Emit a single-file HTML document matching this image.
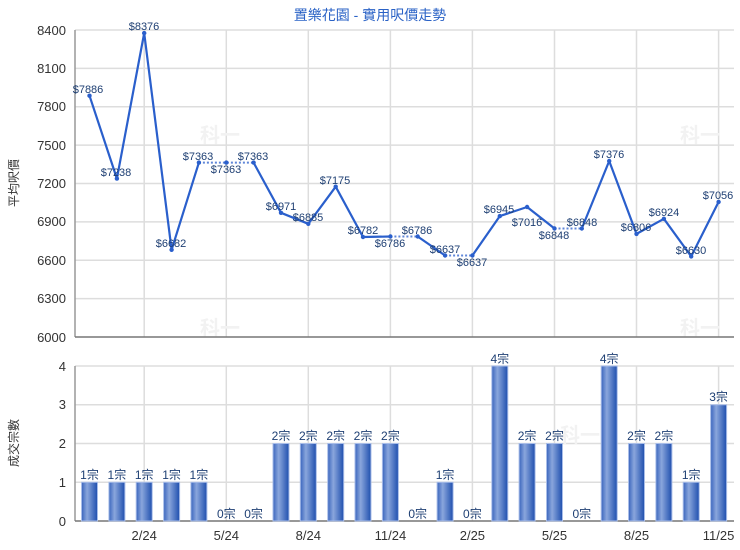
<!DOCTYPE html>
<html><head><meta charset="utf-8"><style>
body{margin:0;background:#fff}
svg{display:block}
text{font-family:"Liberation Sans","Noto Sans CJK TC",sans-serif}
</style></head><body>
<svg width="740" height="550" viewBox="0 0 740 550" xmlns="http://www.w3.org/2000/svg">
<defs>
<linearGradient id="bg" x1="0" x2="1" y1="0" y2="0">
<stop offset="0" stop-color="#3a65bd"/><stop offset="0.35" stop-color="#8aa6dc"/><stop offset="1" stop-color="#1f4fae"/>
</linearGradient>
</defs>
<text x="370" y="20" text-anchor="middle" font-size="14" fill="#2a62c6">置樂花園 - 實用呎價走勢</text>
<g stroke="#dddddd" stroke-width="1.5">
<line x1="75" x2="734" y1="30" y2="30"/><line x1="75" x2="734" y1="68.4" y2="68.4"/><line x1="75" x2="734" y1="106.7" y2="106.7"/><line x1="75" x2="734" y1="145.1" y2="145.1"/><line x1="75" x2="734" y1="183.5" y2="183.5"/><line x1="75" x2="734" y1="221.9" y2="221.9"/><line x1="75" x2="734" y1="260.2" y2="260.2"/><line x1="75" x2="734" y1="298.6" y2="298.6"/>
<line x1="144.2" x2="144.2" y1="30" y2="337"/><line x1="226.3" x2="226.3" y1="30" y2="337"/><line x1="308.3" x2="308.3" y1="30" y2="337"/><line x1="390.4" x2="390.4" y1="30" y2="337"/><line x1="472.4" x2="472.4" y1="30" y2="337"/><line x1="554.5" x2="554.5" y1="30" y2="337"/><line x1="636.5" x2="636.5" y1="30" y2="337"/><line x1="718.6" x2="718.6" y1="30" y2="337"/>
<line x1="75" x2="734" y1="366" y2="366"/><line x1="75" x2="734" y1="404.75" y2="404.75"/><line x1="75" x2="734" y1="443.5" y2="443.5"/><line x1="75" x2="734" y1="482.25" y2="482.25"/>
<line x1="144.2" x2="144.2" y1="366" y2="521"/><line x1="226.3" x2="226.3" y1="366" y2="521"/><line x1="308.3" x2="308.3" y1="366" y2="521"/><line x1="390.4" x2="390.4" y1="366" y2="521"/><line x1="472.4" x2="472.4" y1="366" y2="521"/><line x1="554.5" x2="554.5" y1="366" y2="521"/><line x1="636.5" x2="636.5" y1="366" y2="521"/><line x1="718.6" x2="718.6" y1="366" y2="521"/>
</g>
<g fill="#f2f2f2" font-size="20" font-weight="bold">
<text x="200" y="142">科一</text><text x="680" y="142">科一</text><text x="200" y="335">科一</text><text x="680" y="335">科一</text><text x="560" y="442">科一</text>
</g>
<g stroke="#999" stroke-width="1.5"><line x1="75" x2="75" y1="30" y2="337"/><line x1="75" x2="75" y1="366" y2="521"/></g>
<g stroke="#777" stroke-width="1.5"><line x1="75" x2="734" y1="337" y2="337"/><line x1="75" x2="734" y1="521" y2="521"/></g>
<g font-size="13" fill="#333" text-anchor="end">
<text x="66" y="35">8400</text><text x="66" y="73">8100</text><text x="66" y="111">7800</text><text x="66" y="150">7500</text><text x="66" y="188">7200</text><text x="66" y="226">6900</text><text x="66" y="265">6600</text><text x="66" y="303">6300</text><text x="66" y="342">6000</text>
<text x="66" y="371">4</text><text x="66" y="409">3</text><text x="66" y="448">2</text><text x="66" y="487">1</text><text x="66" y="526">0</text>
</g>
<g font-size="12" fill="#333" text-anchor="middle">
<text transform="translate(18,183) rotate(-90)">平均呎價</text>
<text transform="translate(18,443) rotate(-90)">成交宗數</text>
</g>
<g font-size="13" fill="#333" text-anchor="middle">
<text x="144.2" y="540">2/24</text><text x="226.3" y="540">5/24</text><text x="308.3" y="540">8/24</text><text x="390.4" y="540">11/24</text><text x="472.4" y="540">2/25</text><text x="554.5" y="540">5/25</text><text x="636.5" y="540">8/25</text><text x="718.6" y="540">11/25</text>
</g>
<g fill="none" stroke="#2a5fcc" stroke-width="2.2" stroke-linejoin="round">
<polyline points="89.5,95.7 116.9,178.6 144.2,33.1 171.6,249.8 198.9,162.6"/>
<polyline points="253.6,162.6 281,212.8 308.3,223.8 335.7,186.7 363,237 390.4,236.5"/>
<polyline points="417.7,236.5 445.1,255.5"/>
<polyline points="472.4,255.5 499.8,216.1 527.1,207 554.5,228.5"/>
<polyline points="581.8,228.5 609.2,161 636.5,233.9 663.9,218.8 691.2,256.4 718.6,201.9"/>
</g>
<g fill="none" stroke="#5f86d8" stroke-width="2" stroke-dasharray="2,2">
<polyline points="198.9,162.6 226.3,162.6 253.6,162.6"/>
<line x1="390.4" y1="236.5" x2="417.7" y2="236.5"/>
<line x1="445.1" y1="255.5" x2="472.4" y2="255.5"/>
<line x1="554.5" y1="228.5" x2="581.8" y2="228.5"/>
</g>
<g fill="#2a5fcc">
<circle cx="89.5" cy="95.7" r="2.2"/><circle cx="116.9" cy="178.6" r="2.2"/><circle cx="144.2" cy="33.1" r="2.2"/><circle cx="171.6" cy="249.8" r="2.2"/><circle cx="198.9" cy="162.6" r="2.2"/><circle cx="226.3" cy="162.6" r="2.2"/><circle cx="253.6" cy="162.6" r="2.2"/><circle cx="281" cy="212.8" r="2.2"/><circle cx="308.3" cy="223.8" r="2.2"/><circle cx="335.7" cy="186.7" r="2.2"/><circle cx="363" cy="237" r="2.2"/><circle cx="390.4" cy="236.5" r="2.2"/><circle cx="417.7" cy="236.5" r="2.2"/><circle cx="445.1" cy="255.5" r="2.2"/><circle cx="472.4" cy="255.5" r="2.2"/><circle cx="499.8" cy="216.1" r="2.2"/><circle cx="527.1" cy="207" r="2.2"/><circle cx="554.5" cy="228.5" r="2.2"/><circle cx="581.8" cy="228.5" r="2.2"/><circle cx="609.2" cy="161" r="2.2"/><circle cx="636.5" cy="233.9" r="2.2"/><circle cx="663.9" cy="218.8" r="2.2"/><circle cx="691.2" cy="256.4" r="2.2"/><circle cx="718.6" cy="201.9" r="2.2"/>
</g>
<g font-size="11" fill="#1e3f73" text-anchor="middle">
<text x="88" y="93">$7886</text><text x="116" y="176">$7238</text><text x="144" y="30">$8376</text><text x="171" y="247">$6682</text><text x="198" y="160">$7363</text><text x="226" y="173">$7363</text><text x="253" y="160">$7363</text><text x="281" y="210">$6971</text><text x="308" y="221">$6885</text><text x="335" y="184">$7175</text><text x="363" y="234">$6782</text><text x="390" y="247">$6786</text><text x="417" y="234">$6786</text><text x="445" y="253">$6637</text><text x="472" y="266">$6637</text><text x="499" y="213">$6945</text><text x="527" y="226">$7016</text><text x="554" y="239">$6848</text><text x="582" y="226">$6848</text><text x="609" y="158">$7376</text><text x="636" y="231">$6806</text><text x="664" y="216">$6924</text><text x="691" y="254">$6630</text><text x="718" y="199">$7056</text>
</g>
<g fill="url(#bg)" stroke="#a9bde8" stroke-width="1">
<rect x="81.5" y="482.25" width="16" height="38.75"/><rect x="108.9" y="482.25" width="16" height="38.75"/><rect x="136.2" y="482.25" width="16" height="38.75"/><rect x="163.6" y="482.25" width="16" height="38.75"/><rect x="190.9" y="482.25" width="16" height="38.75"/>
<rect x="273" y="443.5" width="16" height="77.5"/><rect x="300.3" y="443.5" width="16" height="77.5"/><rect x="327.7" y="443.5" width="16" height="77.5"/><rect x="355" y="443.5" width="16" height="77.5"/><rect x="382.4" y="443.5" width="16" height="77.5"/>
<rect x="437.1" y="482.25" width="16" height="38.75"/>
<rect x="491.8" y="366" width="16" height="155"/><rect x="519.1" y="443.5" width="16" height="77.5"/><rect x="546.5" y="443.5" width="16" height="77.5"/>
<rect x="601.2" y="366" width="16" height="155"/><rect x="628.5" y="443.5" width="16" height="77.5"/><rect x="655.9" y="443.5" width="16" height="77.5"/><rect x="683.2" y="482.25" width="16" height="38.75"/><rect x="710.6" y="404.75" width="16" height="116.25"/>
</g>
<g font-size="12" fill="#1e3f73" text-anchor="middle">
<text x="89.5" y="479">1宗</text><text x="116.9" y="479">1宗</text><text x="144.2" y="479">1宗</text><text x="171.6" y="479">1宗</text><text x="198.9" y="479">1宗</text><text x="226.3" y="518">0宗</text><text x="253.6" y="518">0宗</text>
<text x="281" y="440">2宗</text><text x="308.3" y="440">2宗</text><text x="335.7" y="440">2宗</text><text x="363" y="440">2宗</text><text x="390.4" y="440">2宗</text><text x="417.7" y="518">0宗</text><text x="445.1" y="479">1宗</text><text x="472.4" y="518">0宗</text>
<text x="499.8" y="363">4宗</text><text x="527.1" y="440">2宗</text><text x="554.5" y="440">2宗</text><text x="581.8" y="518">0宗</text><text x="609.2" y="363">4宗</text><text x="636.5" y="440">2宗</text><text x="663.9" y="440">2宗</text><text x="691.2" y="479">1宗</text><text x="718.6" y="401">3宗</text>
</g>
</svg>
</body></html>
